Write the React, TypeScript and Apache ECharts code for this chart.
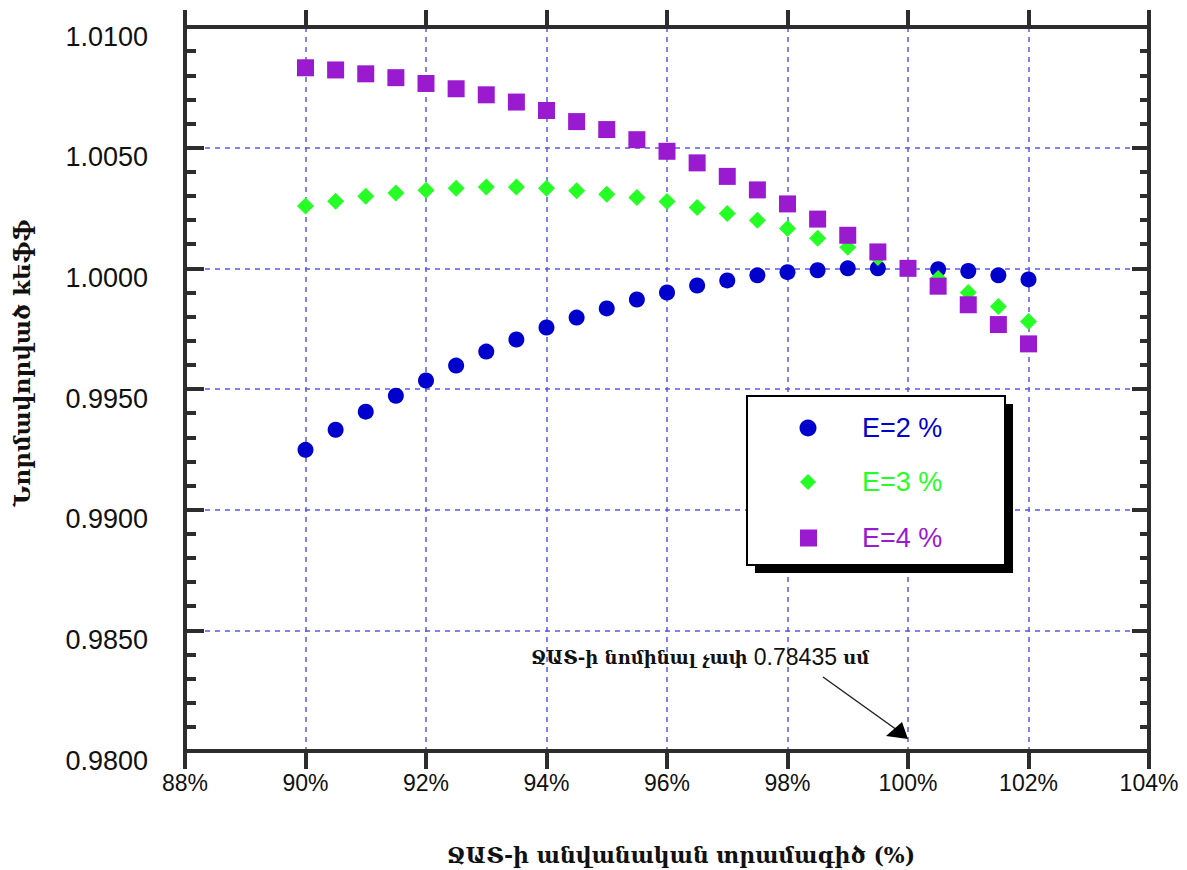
import React, { useEffect, useRef } from "react";
import * as echarts from "echarts";

const xValues = [90, 90.5, 91, 91.5, 92, 92.5, 93, 93.5, 94, 94.5, 95, 95.5, 96, 96.5, 97, 97.5, 98, 98.5, 99, 99.5, 100, 100.5, 101, 101.5, 102];
const e2Values = [0.99248, 0.99331, 0.99406, 0.99472, 0.99535, 0.99597, 0.99655, 0.99705, 0.99755, 0.99796, 0.99834, 0.99871, 0.999, 0.99929, 0.9995, 0.99971, 0.99984, 0.99992, 1.0, 1.0, 1.0, 0.99996, 0.99989, 0.99971, 0.99954];
const e3Values = [1.00258, 1.00278, 1.00299, 1.00312, 1.00324, 1.00332, 1.00337, 1.00337, 1.00332, 1.00321, 1.00307, 1.00293, 1.00277, 1.00252, 1.00227, 1.00199, 1.00165, 1.00125, 1.00087, 1.00045, 1.0, 0.99958, 0.999, 0.99842, 0.9978];
const e4Values = [1.00831, 1.00822, 1.00806, 1.0079, 1.00766, 1.00744, 1.00719, 1.00689, 1.00654, 1.00608, 1.00575, 1.00533, 1.00485, 1.00437, 1.00381, 1.00325, 1.00267, 1.00204, 1.00137, 1.00068, 1.0, 0.99926, 0.99849, 0.99767, 0.99687];
const seriesNames = ["E=2 %", "E=3 %", "E=4 %"];
const xTitle = "ՋԱՏ-ի անվանական տրամագիծ (%)";
const yTitle = "Նորմավորված kեֆֆ";
const noteArm1 = "ՋԱՏ-ի նոմինալ չափ ";
const noteNum = "0.78435";
const noteArm2 = " սմ";

const BLUE = "#0000cc";
const GREEN = "#26ff26";
const PURPLE = "#9a1ad0";
const AXIS = "#2d2d2d";
const GRIDC = "#5a5ae6";
const SANS = "Liberation Sans, Arial, sans-serif";
const SERIF = "DejaVu Serif, DejaVu Sans, serif";

export default function App() {
  const ref = useRef<HTMLDivElement>(null);
  useEffect(() => {
    if (!ref.current) return;
    const chart = echarts.init(ref.current, undefined, { renderer: "svg" });
    const mk = (vals: number[]) => xValues.map((x, i) => [x, vals[i]]);
    const axisLine = { show: true, onZero: false, lineStyle: { color: AXIS, width: 4 } };
    const split = { show: true, lineStyle: { color: GRIDC, width: 1.5, type: [5, 5] } };
    const legendY = [428, 482, 538];
    const legendColors = [BLUE, GREEN, PURPLE];
    const option: any = {
      animation: false,
      grid: { left: 185, right: 38, top: 27, bottom: 119 },
      xAxis: [
        {
          type: "value", position: "bottom", min: 88, max: 104, interval: 2,
          axisLine, axisTick: { show: true, inside: false, length: 18, lineStyle: { color: AXIS, width: 4 } },
          axisLabel: { formatter: (v: number) => v + "%", fontFamily: SANS, fontSize: 23, color: "#111", margin: 20 },
          splitLine: split,
        },
        {
          type: "value", position: "top", min: 88, max: 104, interval: 2,
          axisLine, axisTick: { show: true, inside: false, length: 17, lineStyle: { color: AXIS, width: 4 } },
          axisLabel: { show: false }, splitLine: { show: false },
        },
      ],
      yAxis: [
        {
          type: "value", position: "left", min: 0.98, max: 1.01, interval: 0.005,
          axisLine, axisTick: { show: true, inside: true, length: 19, lineStyle: { color: AXIS, width: 4 } },
          minorTick: { show: true, splitNumber: 5, length: 11, lineStyle: { color: AXIS, width: 4 } },
          axisLabel: { formatter: (v: number) => v.toFixed(4), fontFamily: SANS, fontSize: 27, color: "#111", margin: 37, verticalAlign: "top", lineHeight: 19 },
          splitLine: split,
        },
        {
          type: "value", position: "right", min: 0.98, max: 1.01, interval: 0.005,
          axisLine, axisTick: { show: true, inside: true, length: 17, lineStyle: { color: AXIS, width: 4 } },
          minorTick: { show: true, splitNumber: 5, length: 9, lineStyle: { color: AXIS, width: 4 } },
          axisLabel: { show: false }, splitLine: { show: false },
        },
      ],
      series: [
        { name: seriesNames[0], type: "scatter", symbol: "circle", symbolSize: 16, itemStyle: { color: BLUE, opacity: 1 }, data: mk(e2Values), z: 3 },
        { name: seriesNames[1], type: "scatter", symbol: "diamond", symbolSize: 17, itemStyle: { color: GREEN, opacity: 1 }, data: mk(e3Values), z: 4 },
        { name: seriesNames[2], type: "scatter", symbol: "rect", symbolSize: 17, itemStyle: { color: PURPLE, opacity: 1 }, data: mk(e4Values), z: 5 },
      ],
      graphic: [
        // legend
        { type: "rect", z: 100, shape: { x: 755, y: 404, width: 258, height: 169 }, style: { fill: "#000" } },
        { type: "rect", z: 101, shape: { x: 747, y: 396, width: 258, height: 169 }, style: { fill: "#fff", stroke: "#000", lineWidth: 2 } },
        { type: "circle", z: 102, shape: { cx: 808, cy: legendY[0], r: 8.5 }, style: { fill: BLUE } },
        { type: "polygon", z: 102, shape: { points: [[808, legendY[1] - 8], [816, legendY[1]], [808, legendY[1] + 8], [800, legendY[1]]] }, style: { fill: GREEN } },
        { type: "rect", z: 102, shape: { x: 800, y: legendY[2] - 8.5, width: 17, height: 17 }, style: { fill: PURPLE } },
        ...seriesNames.map((n, i) => ({
          type: "text", z: 102, x: 862, y: legendY[i],
          style: { text: n, fill: legendColors[i], font: `27px ${SANS}`, textAlign: "left", textVerticalAlign: "middle" },
        })),
        // axis titles
        { type: "text", z: 100, x: 681, y: 855, style: { text: xTitle, fill: "#111", font: `bold 22px ${SERIF}`, textAlign: "center", textVerticalAlign: "middle" } },
        { type: "text", z: 100, x: 21, y: 363, rotation: Math.PI / 2, style: { text: yTitle, fill: "#111", font: `bold 23px ${SERIF}`, textAlign: "center", textVerticalAlign: "middle" } },
        // annotation
        {
          type: "text", z: 100, x: 531, y: 657,
          style: {
            text: `{a|${noteArm1}}{n|${noteNum}}{a|${noteArm2}}`,
            textAlign: "left", textVerticalAlign: "middle",
            rich: {
              a: { fontFamily: SERIF, fontWeight: "bold", fontSize: 18, fill: "#111", color: "#111" },
              n: { fontFamily: SANS, fontSize: 23, fill: "#111", color: "#111" },
            },
          },
        },
        { type: "line", z: 100, shape: { x1: 823, y1: 677, x2: 897, y2: 730 }, style: { stroke: "#222", lineWidth: 1.5 } },
        { type: "polygon", z: 100, shape: { points: [[908, 739], [886, 736], [902, 722]] }, style: { fill: "#000" } },
      ],
    };
    chart.setOption(option);
    return () => chart.dispose();
  }, []);
  return <div ref={ref} style={{ position: "fixed", left: 0, top: 0, width: 1187, height: 870, background: "#fff" }} />;
}
